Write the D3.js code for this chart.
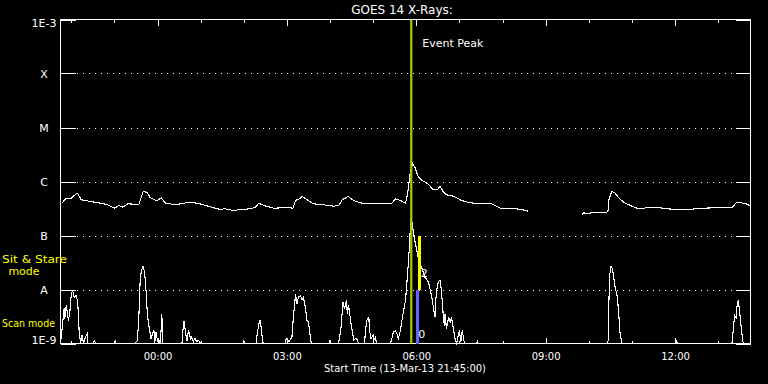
<!DOCTYPE html>
<html>
<head>
<meta charset="utf-8">
<script src="https://cdn.jsdelivr.net/npm/d3@7"></script>
<style>
  html, body { margin: 0; padding: 0; background: #000; }
  svg { display: block; }
  text { font-family: "DejaVu Sans", sans-serif; fill: #fff; }
</style>
</head>
<body>
<script>
// ---------------- DATA ----------------
const chartTitle = "GOES 14 X-Rays:";
const xAxisTitle = "Start Time (13-Mar-13 21:45:00)";
const startTime = "21:45";
const endTime = "13:45";

const yTickValues = [1e-9, 1e-8, 1e-7, 1e-6, 1e-5, 1e-4, 1e-3];
const yTickLabels = ["1E-9", "A", "B", "C", "M", "X", "1E-3"];
const gridValues = [1e-8, 1e-7, 1e-6, 1e-5, 1e-4];

// GOES long channel flux (W/m^2); null = data gap
const goesTimes = ["21:47","21:52","21:59","22:07","22:09","22:14","22:27","22:41","22:50","23:00","23:06","23:11","23:19","23:34","23:40","23:45","23:50","23:59",
  "00:05","00:11","00:25","00:36","00:47","01:00","01:18","01:30","01:32","01:46","01:55","02:09","02:16","02:21","02:29","02:42","02:55",
  "03:05","03:08","03:12","03:19","03:21","03:28","03:37","03:51","04:05","04:12","04:17","04:25","04:33","04:42","04:51","05:05","05:19","05:26","05:31","05:38","05:45","05:48","05:51","05:53","05:55","05:58",
  "06:03","06:08","06:15","06:24","06:29","06:33","06:38","06:42","06:52","07:03","07:15","07:33","07:43","07:52","07:57","08:08","08:20","08:24","08:34","08:35","09:00",
  "09:50","09:53","09:59","10:06","10:25","10:27","10:28","10:32","10:36","10:43","10:50","11:00","11:09","11:16","11:21","11:32","11:39","11:48","12:07","12:16","12:35","12:58","13:02","13:19","13:26","13:32","13:39","13:44"];
const goesFlux = [3.96e-7,4.78e-7,4.78e-7,5.92e-7,5.92e-7,4.58e-7,4.26e-7,3.96e-7,3.75e-7,3.20e-7,3.59e-7,3.34e-7,3.86e-7,3.75e-7,6.53e-7,6.34e-7,4.99e-7,4.35e-7,
  4.99e-7,4.00e-7,3.70e-7,3.96e-7,4.14e-7,3.83e-7,3.26e-7,2.97e-7,3.16e-7,2.90e-7,3.03e-7,3.12e-7,3.34e-7,3.96e-7,3.55e-7,3.20e-7,3.27e-7,
  3.34e-7,3.12e-7,4.45e-7,4.91e-7,5.28e-7,4.58e-7,3.86e-7,3.70e-7,3.49e-7,3.59e-7,4.58e-7,5.28e-7,4.45e-7,4.03e-7,3.86e-7,3.96e-7,3.86e-7,3.96e-7,4.78e-7,4.45e-7,3.96e-7,5.92e-7,1.29e-6,1.74e-6,2.13e-6,1.84e-6,
  1.20e-6,1.04e-6,9.30e-7,7.02e-7,7.02e-7,8.08e-7,6.34e-7,5.67e-7,5.34e-7,4.45e-7,4.03e-7,3.86e-7,3.96e-7,3.44e-7,3.20e-7,3.12e-7,3.12e-7,3.03e-7,2.90e-7,2.70e-7,null,
  2.35e-7,2.63e-7,2.52e-7,2.70e-7,2.70e-7,2.90e-7,4.58e-7,6.53e-7,6.18e-7,4.78e-7,4.03e-7,3.49e-7,3.12e-7,3.12e-7,3.34e-7,3.34e-7,3.26e-7,3.12e-7,3.03e-7,2.99e-7,3.20e-7,3.26e-7,3.34e-7,3.26e-7,4.14e-7,4.03e-7,3.86e-7,3.59e-7];

// Lower (observation-rate) trace
const obsTimes = ["21:45","21:47","21:50","21:51","21:53","21:56","21:58","22:00","22:02","22:04","22:07","22:09","22:11","22:13","22:15","22:17","22:20","22:22","22:23","22:31","22:32","22:34",
  "23:00","23:01","23:02","23:28","23:32","23:34","23:36","23:39","23:40","23:42","23:44","23:46","23:49","23:51","23:53","23:55","23:56","23:58",
  "00:00","00:02","00:04","00:06","00:07","00:34","00:36","00:37","00:39","00:41","00:43","00:46","00:47","00:50","00:52","00:54","00:57","01:00",
  "01:59","02:00","02:01","02:17","02:18","02:21","02:23","02:25","02:27","02:58","02:59","03:03","03:07","03:09","03:12","03:14","03:16","03:19","03:21","03:23","03:26","03:28","03:30","03:32","03:34",
  "03:59","04:00","04:01","04:12","04:13","04:15","04:18","04:20","04:23","04:24","04:26","04:28","04:30","04:33","04:35","04:37","04:40",
  "04:48","04:49","04:51","04:54","04:55","04:57","05:00","05:01","05:03","05:05","05:24","05:26","05:28","05:31","05:33","05:35","05:38","05:40","05:42","05:45","05:47","05:49","05:51","05:52","05:54","05:55","05:58",
  "06:03","06:08","06:12","06:17","06:19","06:22","06:24","06:26","06:27","06:29","06:31","06:33","06:35","06:37","06:39","06:40","06:42","06:45","06:47","06:49","06:52","06:54","06:56","07:00","07:02","07:04","07:07",
  "07:24","07:25","07:26","10:26","10:27","10:28","10:29","10:31","10:33","10:35","10:37","10:39","10:40","10:42","10:43","10:45","10:46",
  "12:01","12:02","12:03","13:19","13:20","13:21","13:23","13:25","13:26","13:28","13:30","13:32","13:34","13:35","13:44"];
const obsValues = [1e-9,1.74e-9,4.45e-9,2.90e-9,5.05e-9,2.67e-9,3.75e-9,8.32e-9,9.58e-9,7.11e-9,7.74e-9,5.74e-9,1.62e-9,1.04e-9,1.41e-9,1e-9,1.35e-9,1.51e-9,1e-9,1e-9,1.14e-9,1e-9,
  1e-9,1.14e-9,1e-9,1e-9,1.14e-9,3.07e-9,1.69e-8,2.59e-8,2.67e-8,2.09e-8,9.58e-9,3.30e-9,1.74e-9,1.24e-9,1.51e-9,1.74e-9,1e-9,1.62e-9,
  1.09e-9,1.14e-9,1e-9,3.55e-9,1e-9,1e-9,2.32e-9,2.59e-9,1.53e-9,1.14e-9,1.74e-9,1.24e-9,1.31e-9,1.09e-9,1.25e-9,1.09e-9,1.14e-9,1e-9,
  1e-9,1.14e-9,1e-9,1e-9,1.31e-9,2.32e-9,2.75e-9,1.53e-9,1e-9,1e-9,1.24e-9,1.09e-9,1.31e-9,3.07e-9,8.08e-9,5.43e-9,7.20e-9,7.74e-9,6.44e-9,7.20e-9,4.39e-9,2.67e-9,2.48e-9,1.51e-9,1e-9,
  1e-9,1.14e-9,1e-9,1e-9,1.27e-9,1.74e-9,5.82e-9,4.39e-9,6.44e-9,3.55e-9,5.05e-9,3.07e-9,2.00e-9,1.17e-9,1.22e-9,1.22e-9,1e-9,
  1e-9,1.51e-9,2.67e-9,3.07e-9,1.74e-9,1.22e-9,1.41e-9,1.14e-9,1.27e-9,1e-9,1e-9,1.22e-9,1.62e-9,1.74e-9,1.51e-9,1.24e-9,1.74e-9,2.67e-9,3.80e-9,6.26e-9,1.37e-8,3.16e-8,8.08e-8,2.04e-7,1.74e-7,1.42e-7,8.08e-8,
  3.75e-8,2.42e-8,1.69e-8,1.37e-8,1.03e-8,6.73e-9,4.45e-9,3.07e-9,6.26e-9,1.10e-8,1.43e-8,1.47e-8,9.58e-9,4.08e-9,2.15e-9,3.55e-9,1.87e-9,3.07e-9,2.48e-9,3.07e-9,1.74e-9,1.22e-9,1e-9,1.74e-9,1.06e-9,1.74e-9,1e-9,
  1e-9,1.10e-9,1e-9,1e-9,1.14e-9,5.82e-9,1.82e-8,2.67e-8,2.42e-8,1.58e-8,1.03e-8,8.32e-9,6.73e-9,3.07e-9,1.74e-9,1.22e-9,1e-9,
  1e-9,1.14e-9,1e-9,1e-9,1.14e-9,1.87e-9,3.30e-9,3.03e-9,4.70e-9,6.44e-9,3.80e-9,2.00e-9,1.17e-9,1e-9,1e-9];

const eventPeakTime = "05:53";
const eventPeakLabel = "Event Peak";

const modeNames = ["Sit & Stare", "Scan"];
const modeTimes = ["06:04", "06:02"];
const modeLow = [1e-8, 1e-9];
const modeHigh = [1e-7, 1e-8];
const modeCounts = ["2", "0"];
const modeColors = ["#ffff00", "#6464ff"];

// ---------------- HELPERS ----------------
function parseT(s) {
  const [h, m] = s.split(":").map(Number);
  const day = h >= 21 ? 13 : 14;
  return new Date(Date.UTC(2013, 2, day, h, m));
}

const W = 768, H = 384;
const L = 60.5, R = 750.5, T = 19.5, B = 343.5;

const svg = d3.select("body").append("svg").attr("width", W).attr("height", H);
svg.append("rect").attr("width", W).attr("height", H).attr("fill", "#000");

const x = d3.scaleUtc().domain([parseT(startTime), parseT(endTime)]).range([L, R]);
const y = d3.scaleLog().domain([1e-9, 1e-3]).range([B, T]);

// gridlines (dotted)
svg.append("g").selectAll("line").data(gridValues).join("line")
  .attr("x1", L).attr("x2", R)
  .attr("y1", d => Math.round(y(d)) + 0.5).attr("y2", d => Math.round(y(d)) + 0.5)
  .attr("stroke", "#fff").attr("stroke-width", 1).attr("stroke-dasharray", "1,5")
  .attr("stroke-dashoffset", -4).attr("shape-rendering", "crispEdges");

// y ticks (solid, both sides)
const ytk = svg.append("g").attr("shape-rendering", "crispEdges");
ytk.selectAll("line.l").data(yTickValues).join("line").attr("class", "l")
  .attr("x1", L).attr("x2", L + 15)
  .attr("y1", d => Math.round(y(d)) + 0.5).attr("y2", d => Math.round(y(d)) + 0.5)
  .attr("stroke", "#fff");
ytk.selectAll("line.r").data(yTickValues).join("line").attr("class", "r")
  .attr("x1", R - 15).attr("x2", R)
  .attr("y1", d => Math.round(y(d)) + 0.5).attr("y2", d => Math.round(y(d)) + 0.5)
  .attr("stroke", "#fff");

// y labels
svg.append("g").selectAll("text").data(yTickValues).join("text")
  .attr("x", 44).attr("text-anchor", "middle")
  .attr("y", (d, i) => {
    if (i === yTickValues.length - 1) return y(d) + 7.5;
    if (i === 0) return y(d) + 0.5;
    return y(d) + 4.5;
  })
  .attr("font-size", 11)
  .text((d, i) => yTickLabels[i]);

// x ticks top & bottom (major every 3h, minor every hour)
const hourTicks = x.ticks(d3.utcHour.every(1));
const isMajor = d => d.getUTCHours() % 3 === 0;
const xt = svg.append("g").attr("shape-rendering", "crispEdges");
xt.selectAll("line.t").data(hourTicks).join("line").attr("class", "t")
  .attr("x1", d => Math.round(x(d)) + 0.5).attr("x2", d => Math.round(x(d)) + 0.5)
  .attr("y1", T).attr("y2", d => T + (isMajor(d) ? 6 : 3))
  .attr("stroke", "#fff");
xt.selectAll("line.b").data(hourTicks).join("line").attr("class", "b")
  .attr("x1", d => Math.round(x(d)) + 0.5).attr("x2", d => Math.round(x(d)) + 0.5)
  .attr("y1", B).attr("y2", d => B - (isMajor(d) ? 6 : 3))
  .attr("stroke", "#fff");

// x labels via d3 axis
const xAxis = d3.axisBottom(x).ticks(d3.utcHour.every(3)).tickFormat(d3.utcFormat("%H:%M")).tickSize(0).tickPadding(0);
const gx = svg.append("g").attr("transform", `translate(0,${B})`).call(xAxis);
gx.select(".domain").remove();
gx.selectAll("text").attr("dy", null).attr("y", 16).attr("font-size", 10)
  .attr("font-family", "DejaVu Sans").attr("fill", "#fff");

// frame
svg.append("rect").attr("x", L).attr("y", T).attr("width", R - L).attr("height", B - T)
  .attr("fill", "none").attr("stroke", "#fff").attr("stroke-width", 1).attr("shape-rendering", "crispEdges");

// titles
svg.append("text").attr("x", 402).attr("y", 14).attr("text-anchor", "middle").attr("font-size", 12).text(chartTitle);
svg.append("text").attr("x", 405).attr("y", 372).attr("text-anchor", "middle").attr("font-size", 10).text(xAxisTitle);

// side labels
svg.append("text").attr("x", 2).attr("y", 263).attr("font-size", 11).attr("textLength", 65)
  .attr("lengthAdjust", "spacingAndGlyphs").style("fill", "#ffff00").text("Sit & Stare");
svg.append("text").attr("x", 24).attr("y", 275).attr("text-anchor", "middle").attr("font-size", 11).style("fill", "#ffff00").text("mode");
svg.append("text").attr("x", 2).attr("y", 327).attr("font-size", 11).attr("textLength", 53)
  .attr("lengthAdjust", "spacingAndGlyphs").style("fill", "#ffff00").text("Scan mode");

// curves
const line = d3.line().defined(d => d[1] != null).x(d => x(d[0])).y(d => y(d[1]));
const goesData = goesTimes.map((t, i) => [parseT(t), goesFlux[i]]);
const obsData = obsTimes.map((t, i) => [parseT(t), obsValues[i]]);

svg.append("path").datum(obsData).attr("d", line).attr("fill", "none").attr("stroke", "#fff")
  .attr("stroke-width", 1.1).attr("shape-rendering", "crispEdges");
svg.append("path").datum(goesData).attr("d", line).attr("fill", "none").attr("stroke", "#fff")
  .attr("stroke-width", 1.1).attr("shape-rendering", "crispEdges");

// mode bars
modeNames.forEach((n, i) => {
  const cx = x(parseT(modeTimes[i]));
  svg.append("rect").attr("x", Math.round(cx - 1.5)).attr("width", 3)
    .attr("y", Math.round(y(modeHigh[i]))).attr("height", Math.round(y(modeLow[i]) - y(modeHigh[i])))
    .attr("fill", modeColors[i]);
});
svg.append("text").attr("x", x(parseT(modeTimes[0])) + 1.5).attr("y", y(modeLow[0]) - 13).attr("font-size", 11).text(modeCounts[0]);
svg.append("text").attr("x", x(parseT(modeTimes[1])) + 0.5).attr("y", y(modeLow[1]) - 6).attr("font-size", 11).text(modeCounts[1]);

// event peak
const ex = x(parseT(eventPeakTime));
svg.append("line").attr("x1", ex).attr("x2", ex).attr("y1", T).attr("y2", B)
  .attr("stroke", "#9acd00").attr("stroke-width", 2.3);
svg.append("text").attr("x", ex + 11).attr("y", 47).attr("font-size", 11).text(eventPeakLabel);
</script>
</body>
</html>
